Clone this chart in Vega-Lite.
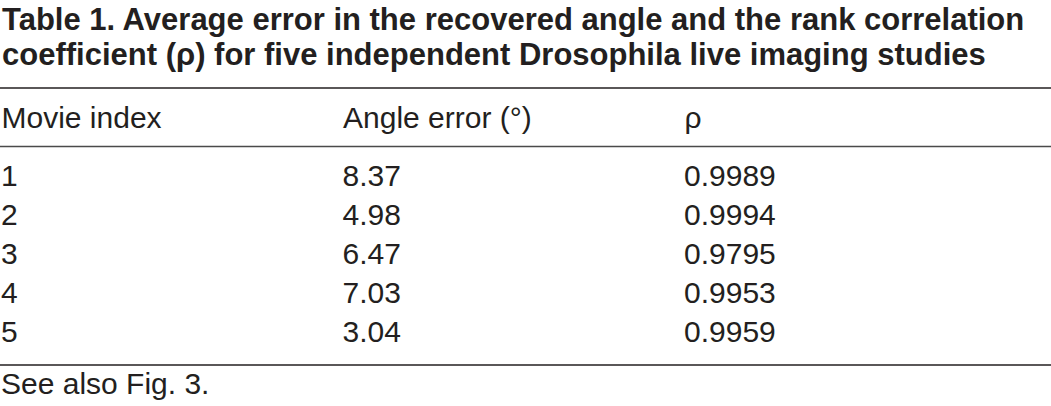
{
  "$schema": "https://vega.github.io/schema/vega-lite/v6.json",
  "width": 1051,
  "height": 277,
  "autosize": {"type": "none"},
  "padding": {"left": 0, "top": 88, "right": 0, "bottom": 41},
  "background": "white",
  "title": {
    "text": ["Table 1. Average error in the recovered angle and the rank correlation", "coefficient (ρ) for five independent Drosophila live imaging studies"],
    "anchor": "start",
    "frame": "group",
    "font": "Liberation Sans",
    "fontSize": 31,
    "fontWeight": "bold",
    "lineHeight": 35,
    "color": "#231f20",
    "offset": 15,
    "dx": 2
  },
  "data": {
    "values": [
      {"row": 1, "Movie index": "1", "Angle error (°)": "8.37", "ρ": "0.9989"},
      {"row": 2, "Movie index": "2", "Angle error (°)": "4.98", "ρ": "0.9994"},
      {"row": 3, "Movie index": "3", "Angle error (°)": "6.47", "ρ": "0.9795"},
      {"row": 4, "Movie index": "4", "Angle error (°)": "7.03", "ρ": "0.9953"},
      {"row": 5, "Movie index": "5", "Angle error (°)": "3.04", "ρ": "0.9959"}
    ]
  },
  "encoding": {
    "x": {
      "field": "column",
      "type": "nominal",
      "scale": {"type": "point", "domain": ["Movie index", "Angle error (°)", "ρ"], "range": [1, 684], "padding": 0},
      "axis": {
        "orient": "top",
        "title": null,
        "domain": false,
        "ticks": false,
        "tickSize": 0,
        "grid": false,
        "labelAngle": 0,
        "labelAlign": "left",
        "labelBaseline": "alphabetic",
        "labelPadding": -39,
        "labelFont": "Liberation Sans",
        "labelFontSize": 30,
        "labelColor": "#231f20",
        "labelLimit": 500
      }
    }
  },
  "layer": [
    {
      "transform": [{"fold": ["Movie index", "Angle error (°)", "ρ"], "as": ["column", "value"]}],
      "mark": {"type": "text", "align": "left", "baseline": "alphabetic", "font": "Liberation Sans", "fontSize": 30, "color": "#231f20"},
      "encoding": {
        "y": {"field": "row", "type": "quantitative", "scale": {"domain": [-1.5, 5.6], "reverse": true, "nice": false, "zero": false}, "axis": null},
        "text": {"field": "value", "type": "nominal"}
      }
    },
    {
      "data": {"values": [{}]},
      "mark": {"type": "rule", "color": "#231f20", "strokeWidth": 1.6},
      "encoding": {"x": null, "y": {"datum": -1.5, "type": "quantitative"}}
    },
    {
      "data": {"values": [{}]},
      "mark": {"type": "rule", "color": "#4a4a4a", "strokeWidth": 1.6},
      "encoding": {"x": null, "y": {"datum": 0, "type": "quantitative"}}
    },
    {
      "data": {"values": [{}]},
      "mark": {"type": "rule", "color": "#231f20", "strokeWidth": 1.6},
      "encoding": {"x": null, "y": {"datum": 5.6, "type": "quantitative"}}
    },
    {
      "data": {"values": [{}]},
      "mark": {"type": "text", "align": "left", "baseline": "alphabetic", "font": "Liberation Sans", "fontSize": 30, "color": "#231f20"},
      "encoding": {
        "x": {"datum": "Movie index", "type": "nominal"},
        "y": {"datum": 6.35, "type": "quantitative"},
        "text": {"value": "See also Fig. 3."}
      }
    }
  ],
  "config": {"view": {"stroke": null}}
}
